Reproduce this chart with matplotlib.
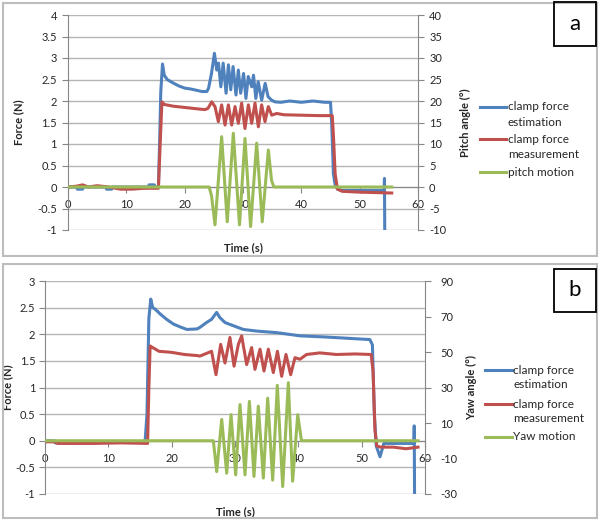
import matplotlib
matplotlib.use("Agg")
import matplotlib.pyplot as plt
from matplotlib.patches import Rectangle
from matplotlib.lines import Line2D

plt.rcParams['font.family'] = ['Lato', 'DejaVu Sans']

# ---------------- Panel a data ----------------
a_est_t = [0.0, 1.5, 1.6, 2.5, 2.6, 6.5, 6.6, 7.5, 7.6, 13.8, 13.9, 14.8, 14.9, 15.5, 15.7, 15.9,
           16.2, 16.5, 17.0, 18.0, 19.0, 20.0, 21.0, 22.0, 23.0, 23.8, 24.1, 24.6, 25.1, 25.5,
           25.8, 26.2, 26.6, 27.1, 27.5, 27.9, 28.3, 28.8, 29.2, 29.6, 30.1, 30.5, 30.9, 31.5,
           31.8, 32.2, 32.6, 33.2, 33.8, 34.3, 34.9, 35.5, 36.5, 38.0, 40.0, 42.0, 44.0, 45.0,
           45.2, 45.5, 45.8, 46.2, 47.0, 50.0, 54.2, 54.25, 54.3]
a_est_f = [0.0, 0.0, -0.05, -0.05, 0.0, 0.0, -0.05, -0.05, 0.0, 0.0, 0.05, 0.05, 0.0, 0.0, 1.0, 2.2,
           2.86, 2.6, 2.5, 2.42, 2.35, 2.3, 2.28, 2.25, 2.22, 2.22, 2.3, 2.64, 3.11, 2.72,
           2.88, 2.33, 2.88, 2.18, 2.84, 2.26, 2.8, 2.14, 2.72, 2.18, 2.64, 2.06, 2.57, 2.33,
           2.6, 2.06, 2.45, 2.02, 2.41, 2.1, 2.02, 1.98, 1.97, 2.0, 1.97, 2.0, 1.97, 1.97,
           1.5, 0.3, 0.05, -0.05, -0.08, -0.08, -0.08, 0.2, -1.0]

a_meas_t = [0.0, 1.5, 2.5, 3.5, 5.0, 7.0, 9.0, 11.0, 13.0, 15.5, 15.8, 16.1, 16.5, 18.0, 20.0,
            22.0, 23.5, 24.0, 24.63, 25.2, 25.77, 26.34, 26.92, 27.49, 28.06, 28.63, 29.2,
            29.77, 30.34, 30.92, 31.49, 32.06, 32.63, 33.2, 33.77, 34.34, 34.92, 35.77, 37.0,
            40.0, 43.0, 45.3, 45.5, 45.8, 46.2, 47.0, 50.0, 55.5]
a_meas_f = [0.0, 0.02, 0.05, 0.0, 0.03, 0.0, -0.05, -0.05, -0.03, -0.03, 1.0, 1.98, 1.92, 1.88, 1.85,
            1.82, 1.8, 1.83, 1.98, 1.87, 1.52, 1.91, 1.44, 1.91, 1.44, 1.87, 1.48,
            1.95, 1.36, 1.91, 1.48, 1.95, 1.40, 1.91, 1.52, 1.87, 1.67, 1.71, 1.68,
            1.67, 1.66, 1.66, 1.2, 0.3, -0.05, -0.1, -0.12, -0.14]

a_pitch_t = [0.0, 24.2, 24.6, 25.2, 26.34, 27.3, 28.34, 29.4, 30.34, 31.3, 32.34, 33.3, 34.34,
             34.9, 35.3, 55.5]
a_pitch_deg = [0.0, 0.0, -2.0, -8.8, 11.7, -8.1, 12.5, -8.8, 11.3, -9.2, 10.2, -8.1, 8.6,
               1.5, 0.0, 0.0]

# ---------------- Panel b data ----------------
b_est_t = [0.0, 1.5, 1.6, 4.0, 6.0, 9.0, 12.0, 15.8, 16.1, 16.4, 16.7, 17.0, 17.4, 18.2, 19.2,
           20.3, 21.5, 22.4, 24.0, 24.47, 25.5, 26.3, 27.1, 27.63, 28.42, 29.74, 31.32, 33.4,
           36.6, 40.26, 44.0, 47.0, 51.3, 51.7, 52.0, 52.3, 52.9, 53.5, 55.0, 58.25, 58.3, 58.35]
b_est_f = [0.0, 0.0, -0.04, -0.04, -0.03, -0.03, -0.02, -0.02, 0.5, 2.3, 2.66, 2.5, 2.47, 2.38, 2.28,
           2.19, 2.13, 2.09, 2.1, 2.13, 2.22, 2.28, 2.41, 2.31, 2.22, 2.16, 2.09, 2.06,
           2.03, 1.97, 1.95, 1.93, 1.9, 1.8, 0.5, -0.1, -0.3, -0.05, -0.05, -0.05, 0.28, -1.0]

b_meas_t = [0.0, 1.5, 2.0, 8.0, 12.0, 16.2, 16.4, 16.6, 17.0, 18.0, 20.0, 22.0, 24.0, 24.47, 26.3,
            27.0, 27.74, 28.42, 29.2, 29.85, 30.53, 31.05, 31.84, 32.63, 33.15, 33.95, 34.58,
            35.26, 36.05, 36.7, 37.37, 38.05, 38.79, 39.47, 40.26, 41.3, 43.4, 46.0, 49.0,
            51.5, 51.8, 52.1, 52.4, 53.0, 55.0, 57.0, 58.9]
b_meas_f = [-0.02, -0.02, -0.05, -0.05, -0.04, -0.05, 1.0, 1.78, 1.75, 1.68, 1.66, 1.62, 1.6, 1.59, 1.68,
            1.24, 1.81, 1.46, 1.94, 1.4, 1.81, 1.97, 1.43, 1.75, 1.34, 1.72, 1.31,
            1.72, 1.28, 1.68, 1.21, 1.62, 1.24, 1.56, 1.53, 1.62, 1.65, 1.62, 1.63,
            1.62, 1.3, 0.2, -0.1, -0.12, -0.12, -0.15, -0.12]

b_yaw_t = [0.0, 26.58, 27.11, 27.9, 28.69, 29.37, 30.11, 30.79, 31.58, 32.27, 33.0, 33.68, 34.48,
           35.16, 35.95, 36.68, 37.53, 38.42, 39.1, 39.9, 40.5, 58.9]
b_yaw_deg = [0.0, 0.0, -17.4, 12.0, -18.3, 14.7, -19.2, 20.4, -19.2, 22.2, -20.1, 19.5, -21.0,
             24.0, -22.2, 31.2, -25.8, 32.7, -22.8, 14.7, 0.0, 0.0]

# tick values / labels
a_force_ticks = [-1, -0.5, 0, 0.5, 1, 1.5, 2, 2.5, 3, 3.5, 4]
a_pitch_ticks = [-10, -5, 0, 5, 10, 15, 20, 25, 30, 35, 40]
b_force_ticks = [-1, -0.5, 0, 0.5, 1, 1.5, 2, 2.5, 3]
b_yaw_ticks = [-30, -10, 10, 30, 50, 70, 90]
time_ticks = [0, 10, 20, 30, 40, 50, 60]

BLUE = '#4F81BD'
RED = '#C0504D'
GREEN = '#9BBB59'
SPINE = '#868686'
GRID = '#b5b5b5'
TXT = '#262626'
LW = 2.2
W, H = 600, 521


def fx(px):
    return px / W


def fy(py):
    return 1 - py / H


def lab(v):
    return '%g' % v


fig = plt.figure(figsize=(6, 5.21), dpi=100)

# panel borders
for (y0, y1) in [(3, 256), (264, 518)]:
    fig.add_artist(Rectangle((fx(3), fy(y1)), fx(597) - fx(3), fy(y0) - fy(y1),
                             transform=fig.transFigure, fill=False, edgecolor='#bdbdbd', lw=1.5))


def panel(box, et, est_f, mt, meas_f, gt, g, fticks, fylim, rticks, rylim, rlabel,
          leg_x, leg_rows, ylab_x, ylab2_x, tick_pad_l, tick_pad_r):
    L, R, T, B = box
    ax = fig.add_axes([fx(L), fy(B), fx(R) - fx(L), fy(T) - fy(B)])
    ax.plot(et, est_f, color=BLUE, lw=LW)
    ax.plot(mt, meas_f, color=RED, lw=LW)
    ax.set_xlim(0, 60)
    ax.set_ylim(*fylim)
    ax.set_yticks(fticks)
    ax.set_yticklabels([lab(v) for v in fticks])
    ax.set_xticks(time_ticks)
    ax.set_xticklabels([lab(v) for v in time_ticks])
    ax.set_axisbelow(True)
    ax.yaxis.grid(True, color=GRID, lw=1.0)
    for s in ['top', 'right']:
        ax.spines[s].set_visible(False)
    ax.spines['bottom'].set_position(('data', 0))
    ax.spines['bottom'].set_color(SPINE)
    ax.spines['left'].set_color(SPINE)
    ax.tick_params(axis='y', direction='out', length=4, color=SPINE, labelsize=8,
                   labelcolor=TXT, pad=tick_pad_l)
    ax.tick_params(axis='x', direction='out', length=4, color=SPINE, labelsize=8,
                   labelcolor=TXT, pad=5)
    ax.set_ylabel('Force (N)', fontsize=8, fontweight='bold', color=TXT)
    ax.yaxis.set_label_coords(ylab_x, 0.5)
    ax.set_xlabel('Time (s)', fontsize=8, fontweight='bold', color=TXT)
    ax.xaxis.set_label_coords(0.5, -0.055)

    ax2 = ax.twinx()
    ax2.plot(gt, g, color=GREEN, lw=LW)
    ax2.set_ylim(*rylim)
    ax2.set_yticks(rticks)
    ax2.set_yticklabels([lab(v) for v in rticks])
    for s in ['top', 'left', 'bottom']:
        ax2.spines[s].set_visible(False)
    ax2.spines['right'].set_color(SPINE)
    ax2.tick_params(axis='y', direction='out', length=4, color=SPINE, labelsize=8,
                    labelcolor=TXT, pad=tick_pad_r)
    ax2.set_ylabel(rlabel, fontsize=8, fontweight='bold', color=TXT, rotation=90)
    ax2.yaxis.set_label_coords(ylab2_x, 0.5)

    # legend
    x0, x1, xt = leg_x
    for (rows, c) in zip(leg_rows, [BLUE, RED, GREEN]):
        y = rows[0][1]
        fig.add_artist(Line2D([fx(x0), fx(x1)], [fy(y), fy(y)], transform=fig.transFigure,
                              color=c, lw=LW))
        for (txt, yy) in rows:
            fig.text(fx(xt), fy(yy), txt, fontsize=8.5, color=TXT, va='center', ha='left')
    return ax, ax2


panel((68, 418, 15, 230), a_est_t, a_est_f, a_meas_t, a_meas_f, a_pitch_t, a_pitch_deg,
      a_force_ticks, (-1, 4), a_pitch_ticks, (-10, 40), 'Pitch angle (°)',
      (480, 506, 508),
      [[('clamp force', 107), ('estimation', 122)],
       [('clamp force', 139), ('measurement', 154)],
       [('pitch motion', 172)]],
      -0.125, 1.12, 4, 4)

panel((45, 425, 281, 494), b_est_t, b_est_f, b_meas_t, b_meas_f, b_yaw_t, b_yaw_deg,
      b_force_ticks, (-1, 3), b_yaw_ticks, (-30, 90), 'Yaw angle (°)',
      (485, 512, 513),
      [[('clamp force', 370), ('estimation', 385)],
       [('clamp force', 404), ('measurement', 419)],
       [('Yaw motion', 437)]],
      -0.085, 1.108, 3, 7)

# panel labels
for (letter, y0, y1) in [('a', 2, 46), ('b', 269, 312)]:
    fig.add_artist(Rectangle((fx(554), fy(y1)), fx(596) - fx(554), fy(y0) - fy(y1),
                             transform=fig.transFigure, fill=False, edgecolor='black', lw=1.3))
    fig.text(fx(575), fy((y0 + y1) / 2), letter, fontsize=16, ha='center', va='center',
             color='black')

fig.savefig('out.png', dpi=100)
